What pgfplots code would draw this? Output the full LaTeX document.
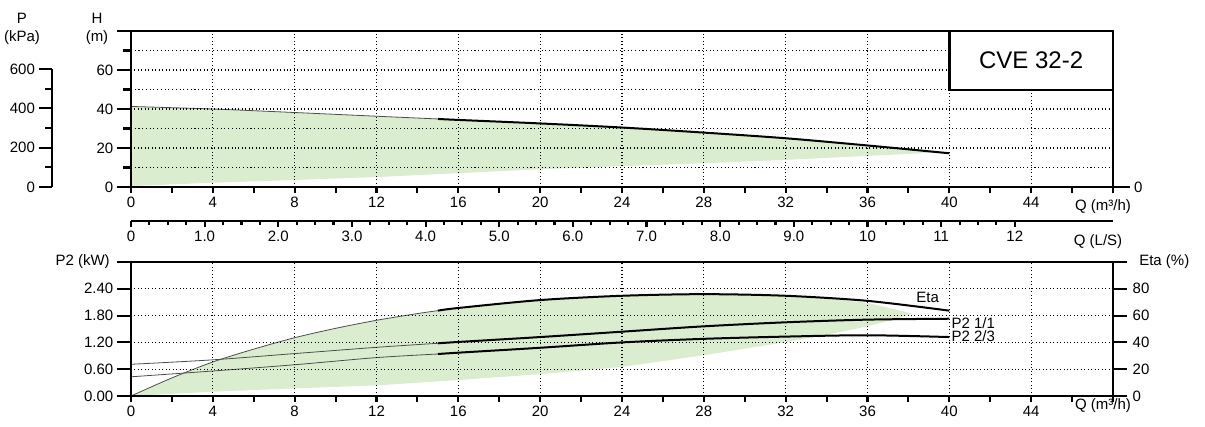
\documentclass[border=0pt]{standalone}
\usepackage{fontspec}
\setmainfont{Liberation Sans}
\usepackage{pgfplots}
\pgfplotsset{compat=1.18}
\usetikzlibrary{calc}

\definecolor{area}{RGB}{218,237,206}

\pgfplotsset{
  pump/.style={
    scale only axis,
    width=736.5pt,
    xmin=0, xmax=48,
    axis line style={line width=2pt},
    tick style={black, line width=1.6pt},
    tick align=outside,
    tick label style={font=\fontsize{11.25}{13}\selectfont},
    /pgf/number format/assume math mode=true,
    major x tick style={/pgfplots/major tick length=4.5pt},
    minor x tick style={/pgfplots/minor tick length=4.5pt},
    major y tick style={/pgfplots/major tick length=10.5pt},
    minor y tick style={/pgfplots/minor tick length=6pt},
  },
  qaxis/.style={
    xtick={0,4,...,48},
    xticklabels={0,4,8,12,16,20,24,28,32,36,40,44,{}},
    minor x tick num=1,
    xtick pos=bottom, ytick pos=left,
    xmajorgrids, ymajorgrids,
    grid style={dotted, line width=0.8pt, black},
    minor grid style={dotted, line width=0.8pt, black},
    yticklabel style={xshift=-5.5pt},
  },
  thin/.style={black!70, line width=0.6pt, smooth},
  thick/.style={black, line width=1.5pt, smooth},
}

\begin{document}
\begin{tikzpicture}
\useasboundingbox (0,0) rectangle (903.75pt,319.5pt);
\tikzset{lab/.style={font=\fontsize{11.25}{13}\selectfont, inner sep=0pt}}

% P (kPa) scale
\begin{axis}[pump, at={(39pt,179.25pt)}, anchor=south west,
  width=1pt, height=88.5pt, xmin=0, xmax=1, ymin=0, ymax=600,
  axis x line=none, axis y line*=left,
  ytick={0,200,400,600}, minor ytick={100,300,500},
  yticklabel style={xshift=-5pt},
  major y tick style={/pgfplots/major tick length=9.75pt},
  minor y tick style={/pgfplots/minor tick length=5.25pt}]
\end{axis}

% H (m) chart
\begin{axis}[pump, qaxis, at={(98.25pt,179.25pt)}, anchor=south west,
  height=117pt, ymin=0, ymax=80,
  ytick={0,20,40,60,80}, yticklabels={0,20,40,60,{}},
  minor ytick={10,30,50,70}, yminorgrids,
  axis on top]
\addplot[fill=area, draw=none] coordinates {
  (0,41.3) (4,40.0) (8,38.2) (12,36.3) (16,34.4) (20,32.6) (24,30.5)
  (28,27.9) (32,25.0) (36,21.3) (39.5,17.7)
  (35.3,15.6) (32,13.9) (28,12.2) (24,10.7) (20,9.1) (16,7.1)
  (12,5.1) (8,3.6) (4,2.2) (0,0.5)};
\addplot[thin] coordinates {(0,41.3) (4,40.0) (8,38.2) (12,36.3) (15,34.9)};
\addplot[thick] coordinates {(15,34.9) (16,34.4) (20,32.6) (24,30.5) (28,27.9) (32,25.0) (36,21.3) (40,17.3)};
\coordinate (boxA) at (axis cs:40,49.7);
\coordinate (boxB) at (axis cs:48,80);
\end{axis}
\draw[fill=white, line width=2pt] (boxA) rectangle (boxB);
\node[font=\fontsize{18}{21}\selectfont] at ($(boxA)!0.5!(boxB)$) {CVE 32-2};

% right-hand zero of the H chart
\begin{axis}[pump, at={(98.25pt,179.25pt)}, anchor=south west,
  height=117pt, ymin=0, ymax=80,
  axis x line=none, axis y line*=right, ytick={0},
  yticklabel style={xshift=8pt},
  major y tick style={/pgfplots/major tick length=12.75pt}]
\end{axis}

% Q (L/S) scale
\begin{axis}[pump, at={(98.25pt,153.75pt)}, anchor=south west,
  height=1pt, xmin=0, xmax=13.3333, ymin=0, ymax=1,
  axis y line=none, axis x line*=bottom,
  xtick={0,1,...,12},
  xticklabels={0,1.0,2.0,3.0,4.0,5.0,6.0,7.0,8.0,9.0,10,11,12},
  minor x tick num=3,
  major x tick style={/pgfplots/major tick length=4.5pt},
  minor x tick style={/pgfplots/minor tick length=3pt}]
\end{axis}

% Eta (%) scale with efficiency curve
\begin{axis}[pump, at={(98.25pt,22.5pt)}, anchor=south west,
  height=100.5pt, ymin=0, ymax=100,
  axis x line=none, axis y line*=right,
  ytick={0,20,40,60,80,100}, yticklabels={0,20,40,60,80,{}},
  yticklabel style={xshift=7pt}]
\addplot[fill=area, draw=none] coordinates {
  (0,0) (2,13.5) (4,25.4) (6,35) (8,43.5) (10,50.5) (12,56.5) (14,61.5)
  (16,65.7) (20,71.6) (24,74.8) (28,76.0) (32,74.8) (34,73) (36,69.5) (38.2,61.5)
  (37,56) (36,52) (34,45.8) (32,40.2) (28,30.4) (24,21.7) (20,16.3)
  (16,11.9) (12,7.9) (8,5.7) (4,3.2) (0,0)};
\addplot[thin] coordinates {(0,0) (2,13.5) (4,25.4) (6,35.0) (8,43.5) (10,50.5) (12,56.5) (14,61.5) (15,63.7)};
\addplot[thick] coordinates {(15,63.7) (16,65.7) (20,71.6) (24,74.8) (28,76.0) (32,74.8) (36,71.0) (40,63.7)};
\end{axis}

% P2 (kW) chart
\begin{axis}[pump, qaxis, at={(98.25pt,22.5pt)}, anchor=south west,
  height=100.5pt, ymin=0, ymax=3,
  ytick={0,0.6,1.2,1.8,2.4,3.0},
  yticklabels={0.00,0.60,1.20,1.80,2.40,{}},
  axis on top]
\addplot[thin] coordinates {(0,0.71) (4,0.81) (8,0.95) (12,1.09) (15,1.18)};
\addplot[thick] coordinates {(15,1.18) (16,1.21) (20,1.32) (24,1.44) (28,1.56) (32,1.65) (36,1.71) (40,1.73)};
\addplot[thin] coordinates {(0,0.43) (4,0.56) (8,0.70) (12,0.86) (15,0.94)};
\addplot[thick] coordinates {(15,0.94) (16,0.97) (20,1.08) (24,1.20) (28,1.28) (32,1.33) (36,1.36) (40,1.32)};
\node[lab, anchor=east] at (axis cs:39.5,2.2) {Eta};
\node[lab, anchor=west] at (axis cs:40.1,1.63) {P2 1/1};
\node[lab, anchor=west] at (axis cs:40.1,1.34) {P2 2/3};
\end{axis}

% axis titles
\node[lab] at (16.5pt,306pt) {P};
\node[lab] at (16.5pt,291pt) {(kPa)};
\node[lab] at (72.75pt,306pt) {H};
\node[lab] at (72.75pt,291pt) {(m)};
\node[lab] at (827.25pt,164.25pt) {Q (m³/h)};
\node[lab] at (823.5pt,138.2pt) {Q (L/S)};
\node[lab] at (827.25pt,15.5pt) {Q (m³/h)};
\node[lab, anchor=east] at (82.5pt,123pt) {P2 (kW)};
\node[lab, anchor=west] at (854.25pt,123pt) {Eta (\%)};
\end{tikzpicture}
\end{document}
